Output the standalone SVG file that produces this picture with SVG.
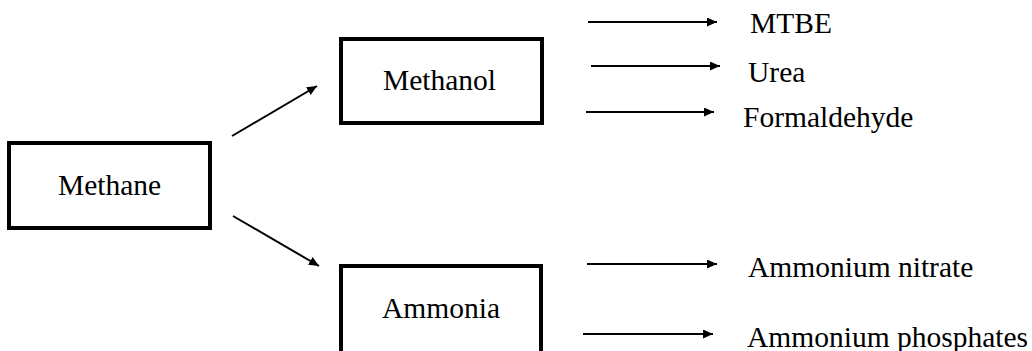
<svg xmlns="http://www.w3.org/2000/svg" width="1032" height="351" viewBox="0 0 1032 351">
  <style>
    .box { fill: #ffffff; stroke: #000000; stroke-width: 4; }
    text { font-family: 'Liberation Serif', 'Times New Roman', Times, 'DejaVu Serif', serif; font-size: 29.5px; fill: #000000; }
    .arrow { stroke: #000000; stroke-width: 2; fill: none; marker-end: url(#head); }
  </style>
  <defs>
    <marker id="head" markerUnits="userSpaceOnUse" markerWidth="11" markerHeight="10" refX="10" refY="4.5" orient="auto">
      <path d="M0,0 L10,4.5 L0,9 Z" fill="#000000"/>
    </marker>
  </defs>
  <rect width="1032" height="351" fill="#ffffff"/>

  <!-- feedstock -->
  <g id="methane">
    <rect class="box" x="9" y="143" width="201" height="85"/>
    <text x="58" y="195" font-family="Liberation Serif, serif">Methane</text>
  </g>

  <!-- intermediates -->
  <g id="methanol">
    <rect class="box" x="341" y="39" width="201" height="84"/>
    <text x="383" y="90" font-family="Liberation Serif, serif">Methanol</text>
  </g>
  <g id="ammonia">
    <rect class="box" x="341" y="266" width="200" height="100"/>
    <text x="382" y="318" font-family="Liberation Serif, serif">Ammonia</text>
  </g>

  <!-- end products -->
  <g id="mtbe"><text x="750" y="33" font-family="Liberation Serif, serif">MTBE</text></g>
  <g id="urea"><text x="748" y="82" font-family="Liberation Serif, serif">Urea</text></g>
  <g id="formaldehyde"><text x="743" y="127" font-family="Liberation Serif, serif">Formaldehyde</text></g>
  <g id="ammonium-nitrate"><text x="748" y="277" font-family="Liberation Serif, serif">Ammonium nitrate</text></g>
  <g id="ammonium-phosphates"><text x="747" y="347" font-family="Liberation Serif, serif">Ammonium phosphates</text></g>

  <g id="connectors">
    <line class="arrow" x1="232" y1="136" x2="317" y2="86"/>
    <line class="arrow" x1="233" y1="216" x2="319" y2="266"/>
    <line class="arrow" x1="588" y1="22" x2="717" y2="22"/>
    <line class="arrow" x1="591" y1="66" x2="720" y2="66"/>
    <line class="arrow" x1="586" y1="112" x2="714" y2="112"/>
    <line class="arrow" x1="587" y1="264" x2="717" y2="264"/>
    <line class="arrow" x1="583" y1="334" x2="713" y2="334"/>
  </g>
</svg>
